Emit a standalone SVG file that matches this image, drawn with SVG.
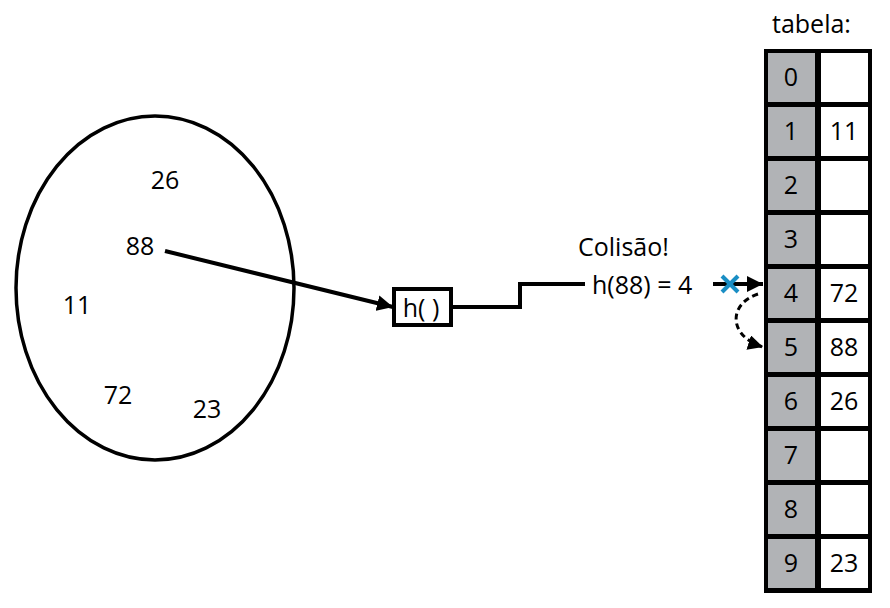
<svg xmlns="http://www.w3.org/2000/svg" width="890" height="608" viewBox="0 0 890 608">
<style>
text{font-family:"Open Sans","Liberation Sans",sans-serif;font-size:25px;fill:#000}
.c{text-anchor:middle}
.ln{fill:none;stroke:#000;stroke-width:4}
.g{fill:#b1b3b6}
.w{fill:#fff}
</style>
<defs>
<marker id="ah" viewBox="0 0 10 10" refX="10" refY="5" markerWidth="4" markerHeight="4" markerUnits="strokeWidth" orient="auto"><path d="M0,0L10,5L0,10z" fill="#000"/></marker>
<marker id="ah2" viewBox="0 0 10 10" refX="10" refY="5" markerWidth="5" markerHeight="5" markerUnits="strokeWidth" orient="auto"><path d="M0,0L10,5L0,10z" fill="#000"/></marker>
</defs>
<rect width="890" height="608" fill="#fff"/>
<g id="set">
<ellipse cx="155" cy="288" rx="139" ry="172" fill="none" stroke="#000" stroke-width="3.5"/>
<text class="c" x="165" y="189">26</text>
<text class="c" x="140" y="255">88</text>
<text class="c" x="77" y="314">11</text>
<text class="c" x="118" y="404">72</text>
<text class="c" x="207" y="418">23</text>
</g>
<g id="hash">
<rect x="394" y="289" width="57" height="36" fill="#fff" stroke="#000" stroke-width="4"/>
<text class="c" x="421" y="317">h( )</text>
</g>
<g id="labels">
<text x="578" y="256">Colisão!</text>
<text x="592" y="294">h(88) = 4</text>
<text x="772" y="33">tabela:</text>
</g>
<g id="table">
<rect x="764" y="49" width="108" height="544" fill="#000"/>
<g id="r0"><rect class="g" x="768" y="53" width="47" height="49"/><rect class="w" x="821" y="53" width="47" height="49"/><text class="c" x="791" y="86">0</text></g>
<g id="r1"><rect class="g" x="768" y="107" width="47" height="49"/><rect class="w" x="821" y="107" width="47" height="49"/><text class="c" x="791" y="140">1</text><text class="c" x="844" y="140">11</text></g>
<g id="r2"><rect class="g" x="768" y="161" width="47" height="49"/><rect class="w" x="821" y="161" width="47" height="49"/><text class="c" x="791" y="194">2</text></g>
<g id="r3"><rect class="g" x="768" y="215" width="47" height="49"/><rect class="w" x="821" y="215" width="47" height="49"/><text class="c" x="791" y="248">3</text></g>
<g id="r4"><rect class="g" x="768" y="269" width="47" height="49"/><rect class="w" x="821" y="269" width="47" height="49"/><text class="c" x="791" y="302">4</text><text class="c" x="844" y="302">72</text></g>
<g id="r5"><rect class="g" x="768" y="323" width="47" height="49"/><rect class="w" x="821" y="323" width="47" height="49"/><text class="c" x="791" y="356">5</text><text class="c" x="844" y="356">88</text></g>
<g id="r6"><rect class="g" x="768" y="377" width="47" height="49"/><rect class="w" x="821" y="377" width="47" height="49"/><text class="c" x="791" y="410">6</text><text class="c" x="844" y="410">26</text></g>
<g id="r7"><rect class="g" x="768" y="431" width="47" height="49"/><rect class="w" x="821" y="431" width="47" height="49"/><text class="c" x="791" y="464">7</text></g>
<g id="r8"><rect class="g" x="768" y="485" width="47" height="49"/><rect class="w" x="821" y="485" width="47" height="49"/><text class="c" x="791" y="518">8</text></g>
<g id="r9"><rect class="g" x="768" y="539" width="47" height="49"/><rect class="w" x="821" y="539" width="47" height="49"/><text class="c" x="791" y="572">9</text><text class="c" x="844" y="572">23</text></g>
</g>
<g id="connectors">
<line class="ln" x1="165" y1="251" x2="393" y2="307" marker-end="url(#ah)"/>
<path class="ln" d="M451,307H520V284H585"/>
<line class="ln" x1="713" y1="284" x2="763" y2="284" marker-end="url(#ah)"/>
<path d="M758,294C728,304 728,336 763,347" fill="none" stroke="#000" stroke-width="3" stroke-dasharray="6,4" marker-end="url(#ah2)"/>
<g stroke="#1a8ec4" stroke-width="4"><line x1="722" y1="276" x2="738" y2="292"/><line x1="738" y1="276" x2="722" y2="292"/></g>
</g>
</svg>
